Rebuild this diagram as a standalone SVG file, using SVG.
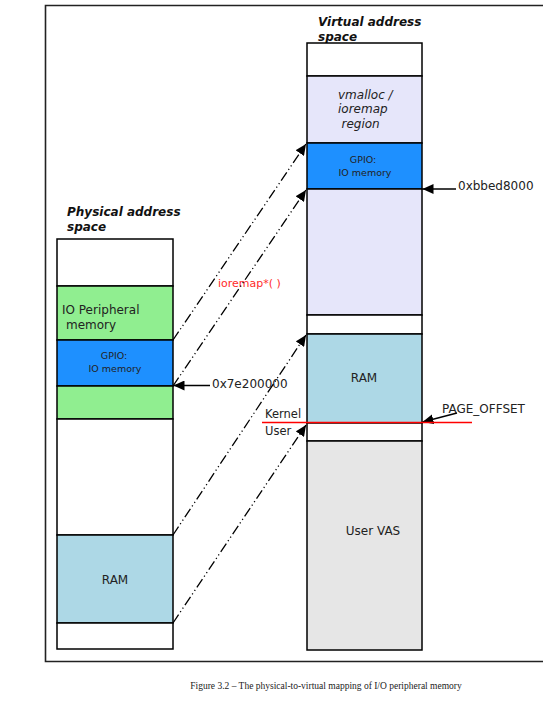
<svg xmlns="http://www.w3.org/2000/svg" width="543" height="709" viewBox="0 0 543 709">
<style>
.t{font-family:"DejaVu Sans",sans-serif;fill:#222;}
.h{font-family:"DejaVu Sans",sans-serif;font-weight:bold;font-style:italic;font-size:12px;fill:#111;}
.box{stroke:#000;stroke-width:1.5;}
.dd{fill:none;stroke:#000;stroke-width:1.3;stroke-dasharray:10 3 1.2 3 1.2 3;}
.solid{fill:none;stroke:#000;stroke-width:1.3;}
</style>
<defs>
<marker id="ah" markerUnits="userSpaceOnUse" markerWidth="11" markerHeight="10" refX="11" refY="5" orient="auto">
<path d="M0,0 L11,5 L0,10 z" fill="#000"/>
</marker>
</defs>
<rect width="543" height="709" fill="#fff"/>
<path d="M560,5.5 H45.5 V661.5 H560" fill="none" stroke="#222" stroke-width="1.6"/>

<g id="physical">
<text class="h" x="67" y="216">Physical address</text>
<text class="h" x="67" y="230.5">space</text>
<rect class="box" x="57" y="239" width="116" height="47" fill="#fff"/>
<rect class="box" x="57" y="286" width="116" height="54" fill="#90EE90"/>
<rect class="box" x="57" y="340" width="116" height="46" fill="#1E90FF"/>
<rect class="box" x="57" y="386" width="116" height="33" fill="#90EE90"/>
<rect class="box" x="57" y="419" width="116" height="116" fill="#fff"/>
<rect class="box" x="57" y="535" width="116" height="88" fill="#ADD8E6"/>
<rect class="box" x="57" y="623" width="116" height="26" fill="#fff"/>
<text class="t" x="62" y="314" font-size="12">IO Peripheral</text>
<text class="t" x="66" y="329" font-size="12">memory</text>
<text class="t" x="114" y="359" font-size="9.5" text-anchor="middle">GPIO:</text>
<text class="t" x="115" y="372" font-size="9.5" text-anchor="middle">IO memory</text>
<text class="t" x="115" y="583.5" font-size="12" text-anchor="middle">RAM</text>
</g>

<g id="virtual">
<text class="h" x="318" y="26">Virtual address</text>
<text class="h" x="318" y="40.5">space</text>
<rect class="box" x="307" y="43" width="115" height="33" fill="#fff"/>
<rect class="box" x="307" y="76" width="115" height="67" fill="#E6E6FA"/>
<rect class="box" x="307" y="143" width="115" height="46" fill="#1E90FF"/>
<rect class="box" x="307" y="189" width="115" height="126" fill="#E6E6FA"/>
<rect class="box" x="307" y="315" width="115" height="19" fill="#fff"/>
<rect class="box" x="307" y="334" width="115" height="89" fill="#ADD8E6"/>
<rect class="box" x="307" y="423" width="115" height="18" fill="#fff"/>
<rect class="box" x="307" y="441" width="115" height="209" fill="#E6E6E6"/>
<text class="t" x="338" y="98.5" font-size="12" font-style="italic">vmalloc /</text>
<text class="t" x="338" y="113" font-size="12" font-style="italic">ioremap</text>
<text class="t" x="341.5" y="128" font-size="12" font-style="italic">region</text>
<text class="t" x="363" y="163" font-size="9.5" text-anchor="middle">GPIO:</text>
<text class="t" x="365" y="175.5" font-size="9.5" text-anchor="middle">IO memory</text>
<text class="t" x="364" y="381.5" font-size="12" text-anchor="middle">RAM</text>
<text class="t" x="373" y="534.5" font-size="12" text-anchor="middle">User VAS</text>
</g>

<g id="labels">
<text class="t" x="458" y="190" font-size="12">0xbbed8000</text>
<text class="t" x="212" y="387.5" font-size="12">0x7e200000</text>
<text x="218" y="287" font-family="DejaVu Sans, sans-serif" font-size="11" fill="#ff2a2a">ioremap*( )</text>
<text class="t" x="265" y="418" font-size="11.5">Kernel</text>
<text class="t" x="265" y="435" font-size="11.5">User</text>
<text class="t" x="442" y="412.5" font-size="12">PAGE_OFFSET</text>
</g>

<g id="connectors">
<path class="dd" d="M173,340 L306,144" marker-end="url(#ah)"/>
<path class="dd" d="M173,386 L306,190" marker-end="url(#ah)"/>
<path class="dd" d="M173,535 L306,335" marker-end="url(#ah)"/>
<path class="dd" d="M173,623 L306,425" marker-end="url(#ah)"/>
<path class="solid" d="M456,189 L422.5,189" marker-end="url(#ah)"/>
<path class="solid" d="M210,385.5 L173.5,385.5" marker-end="url(#ah)"/>
<path class="solid" d="M457,413 L422.5,422" marker-end="url(#ah)"/>
<path d="M262,422.5 H472" stroke="#f00" stroke-width="1.6"/>
</g>

<text x="326" y="689" font-family="Liberation Serif, serif" font-size="9.5" fill="#222" text-anchor="middle">Figure 3.2 – The physical-to-virtual mapping of I/O peripheral memory</text>
</svg>
